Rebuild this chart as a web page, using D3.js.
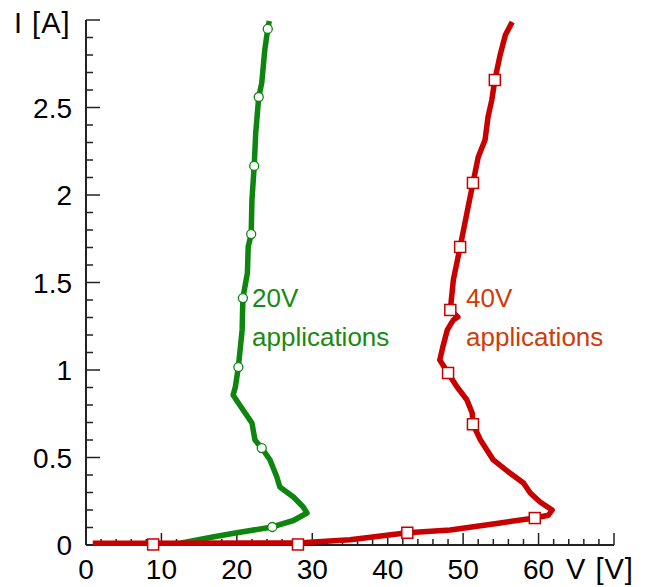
<!DOCTYPE html>
<html><head><meta charset="utf-8">
<script src="https://cdn.jsdelivr.net/npm/d3@7"></script>
<style>body{margin:0;background:#fff}svg{display:block}text{font-family:"Liberation Sans",Arial,sans-serif}</style>
</head><body>
<svg id="c" width="646" height="587"></svg>
<script>
const greenV = [12.5,16.8,19.8,24.7,27.5,29.3,28.8,27.5,25.7,25.3,24.4,23.3,22.4,22.0,21.1,20.2,19.5,19.8,20.2,20.7,20.8,21.4,21.5,21.9,22.0,22.3,22.5,22.9,23.3,23.7,24.1,24.3];
const greenI = [0.01,0.046,0.069,0.103,0.14,0.183,0.217,0.274,0.331,0.389,0.486,0.554,0.6,0.697,0.754,0.811,0.857,0.903,1.017,1.229,1.411,1.554,1.703,1.777,1.971,2.166,2.354,2.56,2.64,2.829,2.949,2.994];
const greenMarkV = [24.7,23.3,20.2,20.8,21.9,22.3,22.9,24.1];
const greenMarkI = [0.103,0.554,1.017,1.411,1.777,2.166,2.56,2.949];
const redV = [0.9,8.9,28.1,35,42.6,48.3,54.9,59.5,61.3,61.8,60.2,58.9,58.0,56.2,54.0,52.3,51.3,51.2,50.5,49.2,48.0,46.9,47.3,47.9,48.7,49.3,48.3,48.7,49.6,50.5,51.3,52.0,52.9,53.3,53.8,54.2,54.9,55.6,56.5];
const redI = [0.01,0.01,0.012,0.03,0.07,0.086,0.126,0.154,0.17,0.2,0.246,0.297,0.354,0.411,0.486,0.6,0.69,0.754,0.829,0.903,0.983,1.057,1.131,1.229,1.286,1.303,1.343,1.514,1.703,1.897,2.069,2.217,2.314,2.446,2.543,2.657,2.8,2.914,2.989];
const redMarkV = [8.9,28.1,42.6,59.5,51.3,48.0,48.3,49.6,51.3,54.2];
const redMarkI = [0.003,0.003,0.07,0.154,0.69,0.983,1.343,1.703,2.069,2.657];
const xTickLabels = [0,10,20,30,40,50,60];
const yTickLabels = [0,0.5,1,1.5,2,2.5];

const svg = d3.select("#c");
const x = d3.scaleLinear().domain([0,70]).range([86,614]);
const y = d3.scaleLinear().domain([0,3]).range([545,20]);
const axisColor = "#222";

// ticks
const xt = d3.range(0,71,2);
svg.append("g").selectAll("line").data(xt).join("line")
  .attr("x1",d=>x(d)).attr("x2",d=>x(d))
  .attr("y1",y(0)).attr("y2",d=>y(0)-(d%10===0?12:6))
  .attr("stroke",axisColor).attr("stroke-width",1.5);
const yt = d3.range(0,31).map(i=>i/10);
svg.append("g").selectAll("line").data(yt).join("line")
  .attr("y1",d=>y(d)).attr("y2",d=>y(d))
  .attr("x1",x(0)).attr("x2",(d,i)=>x(0)+(i%5===0?14:7))
  .attr("stroke",axisColor).attr("stroke-width",1.5);
svg.append("line").attr("x1",x(0)).attr("x2",x(70)).attr("y1",y(0)).attr("y2",y(0)).attr("stroke",axisColor).attr("stroke-width",2);
svg.append("line").attr("x1",x(0)).attr("x2",x(0)).attr("y1",y(0)).attr("y2",y(3)).attr("stroke",axisColor).attr("stroke-width",2);

// tick labels
svg.append("g").selectAll("text").data(xTickLabels).join("text")
  .attr("x",d=>x(d)).attr("y",579).attr("text-anchor","middle")
  .attr("font-size",28).attr("fill","#000").text(d=>d);
svg.append("g").selectAll("text").data(yTickLabels).join("text")
  .attr("x",72).attr("y",d=>y(d)+10).attr("text-anchor","end")
  .attr("font-size",28).attr("fill","#000").text(d=>d);
svg.append("text").attr("x",14).attr("y",33).attr("font-size",29).attr("letter-spacing",1).text("I [A]");
svg.append("text").attr("x",566).attr("y",579).attr("font-size",29).attr("letter-spacing",1).text("V [V]");

const line = d3.line().x(d=>x(d[0])).y(d=>y(d[1]));
const gData = greenV.map((v,i)=>[v,greenI[i]]);
const rData = redV.map((v,i)=>[v,redI[i]]);
const green = "#0d850f", red = "#c80000";

svg.append("path").datum(gData).attr("d",line).attr("fill","none")
  .attr("stroke",green).attr("stroke-width",5.5).attr("stroke-linejoin","round");
svg.append("g").selectAll("circle").data(greenMarkV).join("circle")
  .attr("cx",d=>x(d)).attr("cy",(d,i)=>y(greenMarkI[i])).attr("r",4.5)
  .attr("fill","#fff").attr("stroke",green).attr("stroke-width",1.3);

svg.append("path").datum(rData).attr("d",line).attr("fill","none")
  .attr("stroke",red).attr("stroke-width",5.5).attr("stroke-linejoin","round");
svg.append("g").selectAll("rect").data(redMarkV).join("rect")
  .attr("x",d=>x(d)-5.5).attr("y",(d,i)=>y(redMarkI[i])-5.5).attr("width",11).attr("height",11)
  .attr("fill","#fff").attr("stroke",red).attr("stroke-width",1.5);

svg.append("text").attr("x",252).attr("y",307).attr("font-size",26).attr("fill","#1a8a10").text("20V");
svg.append("text").attr("x",252).attr("y",346).attr("font-size",26).attr("fill","#1a8a10").text("applications");
svg.append("text").attr("x",466).attr("y",307).attr("font-size",26).attr("fill","#d23a0a").text("40V");
svg.append("text").attr("x",466).attr("y",346).attr("font-size",26).attr("fill","#d23a0a").text("applications");
</script>
</body></html>
